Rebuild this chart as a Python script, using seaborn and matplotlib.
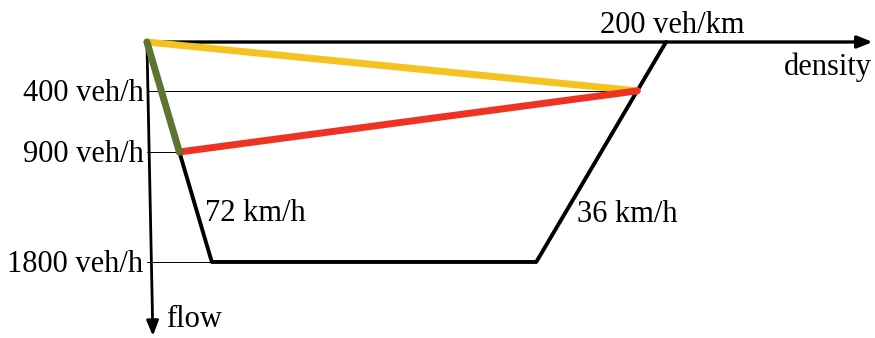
"""
Trapezoidal fundamental diagram, flow pointing down.
"""

import matplotlib
matplotlib.use("Agg")
import matplotlib.pyplot as plt
import seaborn as sns
import pandas as pd

# fundamental diagram values
density_fd = [0, 25, 150, 200]        # veh/km
flow_fd = [0, 1800, 1800, 0]          # veh/h
free_speed = 72                       # km/h
wave_speed = 36                       # km/h
jam_density = 200                     # veh/km

# states
state_a = (0, 0)
state_b = (12.5, 900)
state_c = (188.9, 400)

flow_ticks = [400, 900, 1800]
flow_tick_labels = ["400 veh/h", "900 veh/h", "1800 veh/h"]
tick_ends = [188.9, 12.5, 25]

sns.set_theme(style="white")
plt.rcParams["font.family"] = ["Liberation Serif", "DejaVu Serif"]
plt.rcParams["text.color"] = "black"

fig = plt.figure(figsize=(8.75, 3.38), dpi=100)
ax = fig.add_axes([0, 0, 1, 1])
ax.set_xlim(-56.6, 280.5)
ax.set_ylim(2422, -343.6)
ax.axis("off")

# thin guide lines to flow axis
for q, k_end in zip(flow_ticks, tick_ends):
    ax.plot([0, k_end], [q, q], color="black", lw=0.7, zorder=1)

# the diagram itself
fd = pd.DataFrame({"density": density_fd, "flow": flow_fd})
sns.lineplot(data=fd, x="density", y="flow", color="black",
             linewidth=2.8, estimator=None, sort=False, ax=ax, zorder=3)

# state connections
chords = [
    (state_a, state_c, "#F5C21F"),
    (state_b, state_c, "#EE3323"),
    (state_a, state_b, "#5E7431"),
]
for p, q, col in chords:
    seg = pd.DataFrame({"density": [p[0], q[0]], "flow": [p[1], q[1]]})
    sns.lineplot(data=seg, x="density", y="flow", color=col,
                 linewidth=5.0, estimator=None, sort=False,
                 ax=ax, zorder=4)
ax.lines[-1].set_solid_capstyle("round")

# axes arrows
ax.annotate("", xy=(279.6, 0), xytext=(-0.5, 0),
            arrowprops=dict(arrowstyle="-|>,head_length=0.75,head_width=0.3",
                            color="black", lw=2.4, shrinkA=0, shrinkB=0),
            zorder=2)
ax.annotate("", xy=(2.3, 2405), xytext=(0, 0),
            arrowprops=dict(arrowstyle="-|>,head_length=0.75,head_width=0.3",
                            color="black", lw=2.0, shrinkA=0, shrinkB=0),
            zorder=2)

fs = 22
for q, lab in zip(flow_ticks, flow_tick_labels):
    ax.text(-1.3, q + 85, lab, ha="right", va="baseline", fontsize=fs)

ax.text(jam_density + 2.3, -74, "200 veh/km", ha="center", va="baseline",
        fontsize=fs)
ax.text(279.4, 270, "density", ha="right", va="baseline", fontsize=fs)
ax.text(7.3, 2335, "flow", ha="left", va="baseline", fontsize=fs)
ax.text(22.4, 1465, f"{free_speed} km/h", ha="left", va="baseline",
        fontsize=fs)
ax.text(165.7, 1473, f"{wave_speed} km/h", ha="left", va="baseline",
        fontsize=fs)

plt.savefig("out.png", dpi=100)
plt.close()
